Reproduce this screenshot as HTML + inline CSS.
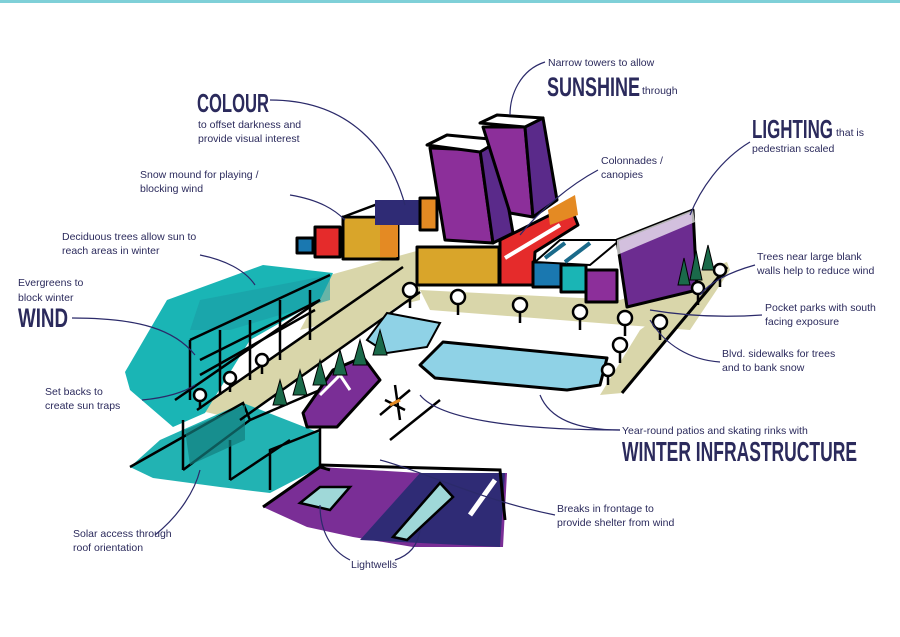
<!DOCTYPE html>
<html><head><meta charset="utf-8"><style>
body{margin:0;background:#fff}
svg{display:block}
.t{font-family:"Liberation Sans",sans-serif;font-size:10.5px;fill:#2b2a5c}
.b{font-family:"Liberation Sans Narrow","Liberation Sans",sans-serif;font-weight:bold;fill:#2b2a5c}
.l{fill:none;stroke:#2b2a6a;stroke-width:1.2}
.k{stroke:#000;stroke-width:3;stroke-linejoin:round}
</style></head><body>
<svg width="900" height="637" viewBox="0 0 900 637">
<rect x="0" y="0" width="900" height="3" fill="#7fd0d8"/>
<!-- beige ground strips -->
<polygon points="330,275 420,250 420,300 300,330" fill="#d9d6aa"/>
<polygon points="197,410 403,267 420,290 240,420" fill="#d9d6aa"/>
<polygon points="420,290 620,300 727,262 730,270 690,330 560,320 430,310" fill="#d9d6aa"/>
<polygon points="640,330 727,267 622,393 600,395" fill="#d9d6aa"/>
<!-- left teal -->
<polygon points="125,372 167,300 263,265 333,273 320,300 250,340 205,413 173,427 130,390" fill="#1ab5b5"/>
<polygon points="200,300 330,275 330,300 230,330 190,330" fill="#1a9da5" opacity=".6"/>
<g fill="none" stroke="#000" stroke-width="2.5">
<path d="M190,340 L330,275 M190,340 L190,400 M220,330 L220,395 M250,320 L250,380 M280,300 L280,360 M310,290 L310,340 M175,400 L320,300"/>
<path d="M200,360 L320,300 M200,375 L315,310"/>
</g>
<!-- bottom teal buildings -->
<polygon points="130,467 153,478 220,487 270,493 320,467 320,433 243,403 160,440" fill="#22b3b3"/>
<g fill="none" stroke="#000" stroke-width="2.5">
<path d="M130,467 L243,403 L250,420 L320,390 L320,470 M183,470 L250,420 M183,470 L183,420 M230,480 L290,440 M270,490 L270,450 L320,430 M230,480 L230,440"/>
</g>
<polygon points="185,430 245,405 245,440 190,465" fill="#137f7f" opacity=".7"/>
<!-- bottom purple -->
<polygon points="263,507 320,467 420,473 507,473 503,547 413,547 353,537 307,527" fill="#7a2e96"/>
<polygon points="420,473 505,473 500,547 360,540" fill="#2f2b75"/>
<path d="M263,507 L320,467 L330,470 M320,465 L500,470 L505,520" stroke="#000" stroke-width="3" fill="none"/>
<polygon points="300,503 320,487 350,487 330,510" fill="#9fd8d8" stroke="#000" stroke-width="2.5"/>
<polygon points="393,537 440,483 453,497 407,540" fill="#9fd8d8" stroke="#000" stroke-width="2.5"/>
<path d="M470,515 L495,480" stroke="#fff" stroke-width="5"/>
<!-- small buildings top-left -->
<rect x="297" y="238" width="16" height="15" fill="#1a78b0" class="k" stroke-width="2"/>
<rect x="315" y="227" width="25" height="30" fill="#e52b2b" class="k"/>
<rect x="343" y="217" width="55" height="42" fill="#d9a52a" class="k"/>
<polygon points="343,217 375,205 420,205 398,217" fill="#fff" stroke="#000" stroke-width="2.5"/>
<rect x="375" y="200" width="45" height="25" fill="#2f2b75"/>
<rect x="380" y="225" width="18" height="32" fill="#e48a23"/>
<rect x="420" y="198" width="17" height="32" fill="#e48a23" class="k" stroke-width="2"/>
<!-- towers -->
<polygon points="430,148 480,150 493,243 445,240" fill="#8c2f9a" class="k"/>
<polygon points="480,150 497,142 513,233 493,243" fill="#5a2a8a" class="k"/>
<polygon points="427,145 447,135 500,140 480,152" fill="#fff" class="k"/>
<polygon points="483,127 525,127 533,217 510,213" fill="#8c2f9a" class="k"/>
<polygon points="525,127 543,118 557,200 533,217" fill="#5a2a8a" class="k"/>
<polygon points="480,123 497,115 543,118 525,127" fill="#fff" class="k"/>
<!-- colonnade row -->
<rect x="417" y="247" width="82" height="38" fill="#d9a52a" class="k"/>
<polygon points="500,240 570,205 578,225 535,252 533,285 500,285" fill="#e52b2b" class="k"/>
<polygon points="548,210 575,195 578,215 550,225" fill="#e48a23"/>
<path d="M505,258 L560,225" stroke="#fff" stroke-width="4"/>
<rect x="533" y="262" width="28" height="25" fill="#1a78b0" class="k" stroke-width="2.5"/>
<rect x="561" y="265" width="25" height="27" fill="#1ab5b5" class="k" stroke-width="2.5"/>
<rect x="586" y="270" width="31" height="32" fill="#8c2f9a" class="k" stroke-width="2.5"/>
<polygon points="535,262 560,240 620,240 590,265" fill="#fff" stroke="#000" stroke-width="2"/>
<path d="M545,258 L565,243 M565,262 L590,243" stroke="#1a6a8a" stroke-width="4"/>
<!-- long purple building -->
<polygon points="617,240 693,210 697,290 627,307" fill="#6c2c90" class="k"/>
<polygon points="617,240 693,210 695,222 617,255" fill="#fff" opacity=".7"/>
<!-- road edge line -->
<path d="M622,393 L727,267" stroke="#000" stroke-width="3"/>
<path d="M197,410 L403,267 M240,420 L420,292" stroke="#000" stroke-width="2.5"/>
<!-- rink -->
<polygon points="420,365 443,342 607,358 600,385 567,390 435,378" fill="#8fd2e6" class="k" stroke-width="2.5"/>
<!-- snow mound -->
<polygon points="367,340 387,313 440,323 427,347 387,353" fill="#8fd2e6" stroke="#000" stroke-width="2"/>
<!-- tent -->
<polygon points="303,413 333,370 363,357 380,380 337,427 307,427" fill="#7a2e96" class="k"/>
<path d="M320,395 L340,375 L350,390" stroke="#fff" stroke-width="3" fill="none"/>
<!-- patio furniture -->
<path d="M380,415 L410,390 M385,400 L405,410 M395,385 L400,420" stroke="#000" stroke-width="2.5"/>
<path d="M390,405 L400,400" stroke="#e48a23" stroke-width="3"/>
<path d="M390,440 L440,400" stroke="#000" stroke-width="2.5"/>
<!-- trees -->
<g fill="#fff" stroke="#000" stroke-width="2.5">
<path d="M410,290 v18 M458,297 v18 M520,305 v18 M580,312 v18 M625,318 v18 M660,322 v18 M698,290 v15 M720,272 v15 M620,345 v18 M200,395 v14 M230,378 v14 M262,360 v14 M608,370 v15"/>
<circle cx="410" cy="290" r="7"/><circle cx="458" cy="297" r="7"/><circle cx="520" cy="305" r="7"/><circle cx="580" cy="312" r="7"/><circle cx="625" cy="318" r="7"/><circle cx="660" cy="322" r="7"/><circle cx="698" cy="288" r="6"/><circle cx="720" cy="270" r="6"/><circle cx="620" cy="345" r="7"/><circle cx="608" cy="370" r="6"/>
<circle cx="200" cy="395" r="6"/><circle cx="230" cy="378" r="6"/><circle cx="262" cy="360" r="6"/>
</g>
<g fill="#1a6a4a" stroke="#000" stroke-width="1">
<polygon points="273,405 280,380 287,405"/><polygon points="293,395 300,370 307,395"/><polygon points="313,385 320,360 327,385"/><polygon points="333,375 340,350 347,375"/><polygon points="353,365 360,340 367,365"/><polygon points="373,355 380,330 387,355"/>
<polygon points="678,285 684,258 690,285"/><polygon points="690,280 696,250 702,280"/><polygon points="702,270 708,245 714,270"/>
</g>
<!-- connectors -->
<path class="l" d="M270,100 C350,100 390,150 405,205"/>
<path class="l" d="M545,62 C520,70 510,95 510,115"/>
<path class="l" d="M750,142 C720,160 700,190 690,215"/>
<path class="l" d="M598,170 C570,185 540,210 520,235"/>
<path class="l" d="M290,195 C320,200 335,210 345,220"/>
<path class="l" d="M200,255 C225,260 245,270 255,285"/>
<path class="l" d="M72,318 C140,318 175,330 195,355"/>
<path class="l" d="M755,265 C730,272 710,282 700,295"/>
<path class="l" d="M762,315 C720,318 680,315 650,310"/>
<path class="l" d="M720,362 C690,360 665,345 650,320"/>
<path class="l" d="M142,400 C165,398 185,392 195,385"/>
<path class="l" d="M620,430 C520,430 440,420 420,395"/>
<path class="l" d="M540,395 C550,420 580,430 620,430"/>
<path class="l" d="M555,515 C480,500 420,470 380,460"/>
<path class="l" d="M155,535 C180,515 195,490 200,470"/>
<path class="l" d="M350,560 C330,550 320,530 320,505"/>
<path class="l" d="M395,560 C410,555 418,545 420,530"/>
<!-- labels -->
<text class="t" x="548" y="66">Narrow towers to allow</text>
<text class="b" x="547" y="96" font-size="27" textLength="93" lengthAdjust="spacingAndGlyphs">SUNSHINE</text>
<text class="t" x="642" y="94">through</text>
<text class="b" x="197" y="112" font-size="26" textLength="72" lengthAdjust="spacingAndGlyphs">COLOUR</text>
<text class="t" x="198" y="128">to offset darkness and</text>
<text class="t" x="198" y="142">provide visual interest</text>
<text class="b" x="752" y="138" font-size="26" textLength="81" lengthAdjust="spacingAndGlyphs">LIGHTING</text>
<text class="t" x="836" y="136">that is</text>
<text class="t" x="752" y="152">pedestrian scaled</text>
<text class="t" x="601" y="164">Colonnades /</text>
<text class="t" x="601" y="178">canopies</text>
<text class="t" x="140" y="178">Snow mound for playing /</text>
<text class="t" x="140" y="192">blocking wind</text>
<text class="t" x="62" y="240">Deciduous trees allow sun to</text>
<text class="t" x="62" y="254">reach areas in winter</text>
<text class="t" x="18" y="286">Evergreens to</text>
<text class="t" x="18" y="301">block winter</text>
<text class="b" x="18" y="327" font-size="27" textLength="50" lengthAdjust="spacingAndGlyphs">WIND</text>
<text class="t" x="757" y="260">Trees near large blank</text>
<text class="t" x="757" y="274">walls help to reduce wind</text>
<text class="t" x="765" y="311">Pocket parks with south</text>
<text class="t" x="765" y="325">facing exposure</text>
<text class="t" x="722" y="357">Blvd. sidewalks for trees</text>
<text class="t" x="722" y="371">and to bank snow</text>
<text class="t" x="45" y="395">Set backs to</text>
<text class="t" x="45" y="409">create sun traps</text>
<text class="t" x="622" y="434">Year-round patios and skating rinks with</text>
<text class="b" x="622" y="461" font-size="28" textLength="235" lengthAdjust="spacingAndGlyphs">WINTER INFRASTRUCTURE</text>
<text class="t" x="557" y="512">Breaks in frontage to</text>
<text class="t" x="557" y="526">provide shelter from wind</text>
<text class="t" x="73" y="537">Solar access through</text>
<text class="t" x="73" y="551">roof orientation</text>
<text class="t" x="351" y="568">Lightwells</text>
</svg>
</body></html>
